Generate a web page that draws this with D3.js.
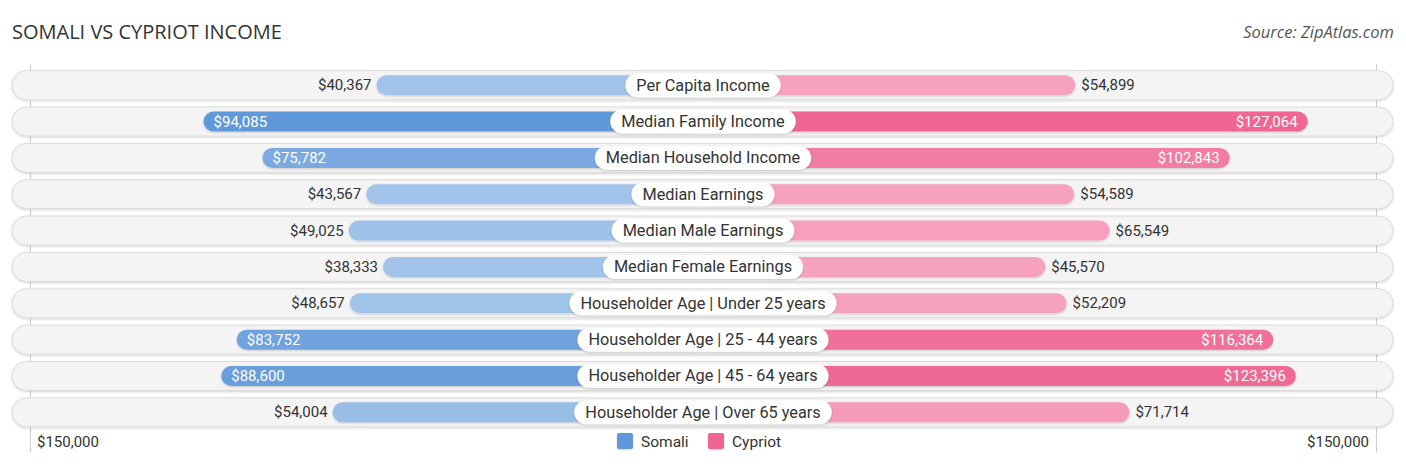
<!DOCTYPE html>
<html><head><meta charset="utf-8">
<script src="https://cdn.jsdelivr.net/npm/d3@7"></script>
<style>body{margin:0;background:#fff;}svg{display:block;}</style>
</head><body>
<script>
const categories = ["Per Capita Income","Median Family Income","Median Household Income","Median Earnings","Median Male Earnings","Median Female Earnings","Householder Age | Under 25 years","Householder Age | 25 - 44 years","Householder Age | 45 - 64 years","Householder Age | Over 65 years"];
const somali = [40367,94085,75782,43567,49025,38333,48657,83752,88600,54004];
const cypriot = [54899,127064,102843,54589,65549,45570,52209,116364,123396,71714];
const seriesNames = ["Somali","Cypriot"];
const axisMax = 150000;
const axisLabels = ["$150,000","$150,000"];

const W = 1406, H = 467, cx = 702.5;
const svg = d3.select("body").append("svg").attr("width", W).attr("height", H);
const defs = svg.append("defs");
const f = defs.append("filter").attr("id","sh").attr("x","-5%").attr("y","-30%").attr("width","110%").attr("height","160%");
f.append("feDropShadow").attr("dx",0).attr("dy",1).attr("stdDeviation",1.2).attr("flood-color","#000").attr("flood-opacity",0.18);

const len = d3.scaleLinear().domain([0, axisMax]).range([196, 679]);
const y = d3.scaleBand().domain(categories).range([67, 430.5]).paddingInner(0.2).paddingOuter(0.1);
const fmt = v => "$" + d3.format(",")(v);
const blue = d3.interpolateRgb("#a2c4eb", "#6199da");
const pink = d3.interpolateRgb("#f6a2be", "#f06591");
const tcol = (v, arr) => Math.max(0, Math.min(1, (v / d3.max(arr) - 0.5) / 0.5));

svg.append("text").attr("x", 12).attr("y", 39).text("SOMALI VS CYPRIOT INCOME")
  .attr("font-family","Open Sans, sans-serif").attr("font-size", 20).attr("fill","#333");
svg.append("text").attr("x", 1394).attr("y", 38).attr("text-anchor","end").text("Source: ZipAtlas.com")
  .attr("font-family","Open Sans, sans-serif").attr("font-style","italic").attr("font-size", 16.5).attr("fill","#555");

// gridlines
[cx - len(axisMax) + 7, cx + len(axisMax) - 5].forEach(x => {
  svg.append("line").attr("x1", x).attr("x2", x).attr("y1", 64).attr("y2", 452).attr("stroke","#ccc").attr("stroke-width",1);
});

const rowH = 29;
const barH = 20;
const g = svg.append("g");
categories.forEach((c, i) => {
  const yc = y(c) + y.bandwidth()/2;
  g.append("rect").attr("x", 12).attr("y", yc - rowH/2).attr("width", 1381).attr("height", rowH)
    .attr("rx", rowH/2).attr("fill","#f4f4f4").attr("stroke","#dcdcdc").attr("stroke-width",1).attr("filter","url(#sh)");
  const s = somali[i], cy = cypriot[i];
  const sx = cx - len(s);
  g.append("rect").attr("x", sx).attr("y", yc - barH/2).attr("width", len(s)).attr("height", barH)
    .attr("rx", barH/2).attr("fill", blue(tcol(s, somali))).attr("filter","url(#sh)");
  g.append("rect").attr("x", cx).attr("y", yc - barH/2).attr("width", len(cy)).attr("height", barH)
    .attr("rx", barH/2).attr("fill", pink(tcol(cy, cypriot))).attr("filter","url(#sh)");
  const sIn = s > 70000, cIn = cy > 90000;
  g.append("text").attr("x", sIn ? sx + 10 : sx - 5).attr("y", yc + 5)
    .attr("text-anchor", sIn ? "start" : "end").text(fmt(s))
    .attr("font-family","Roboto, sans-serif").attr("font-size", 15).attr("fill", sIn ? "#fff" : "#333");
  const ex = cx + len(cy);
  g.append("text").attr("x", cIn ? ex - 10 : ex + 6).attr("y", yc + 5)
    .attr("text-anchor", cIn ? "end" : "start").text(fmt(cy))
    .attr("font-family","Roboto, sans-serif").attr("font-size", 15).attr("fill", cIn ? "#fff" : "#333");
  const t = g.append("text").attr("x", cx + 0.5).attr("y", yc + 5.5).attr("text-anchor","middle").text(c)
    .attr("font-family","Roboto, sans-serif").attr("font-size", 16.3).attr("fill","#333");
  const bw = t.node().getComputedTextLength() + 22;
  g.insert("rect", () => t.node()).attr("x", cx + 0.5 - bw/2).attr("y", yc - 12).attr("width", bw).attr("height", 24)
    .attr("rx", 12).attr("fill","#fff").attr("filter","url(#sh)");
});

svg.append("text").attr("x", 37).attr("y", 447).text(axisLabels[0])
  .attr("font-family","Roboto, sans-serif").attr("font-size", 15).attr("fill","#333");
svg.append("text").attr("x", 1369).attr("y", 447).attr("text-anchor","end").text(axisLabels[1])
  .attr("font-family","Roboto, sans-serif").attr("font-size", 15).attr("fill","#333");

const lg = svg.append("g");
const legCols = ["#6199da", "#f06591"];
const lx = [617, 708];
seriesNames.forEach((n, i) => {
  lg.append("rect").attr("x", lx[i]).attr("y", 433).attr("width", 16).attr("height", 16).attr("rx", 2)
    .attr("fill", legCols[i]).attr("filter","url(#sh)");
  lg.append("text").attr("x", lx[i] + 24).attr("y", 447).text(n)
    .attr("font-family","Roboto, sans-serif").attr("font-size", 15.5).attr("fill","#333");
});
</script>
</body></html>
